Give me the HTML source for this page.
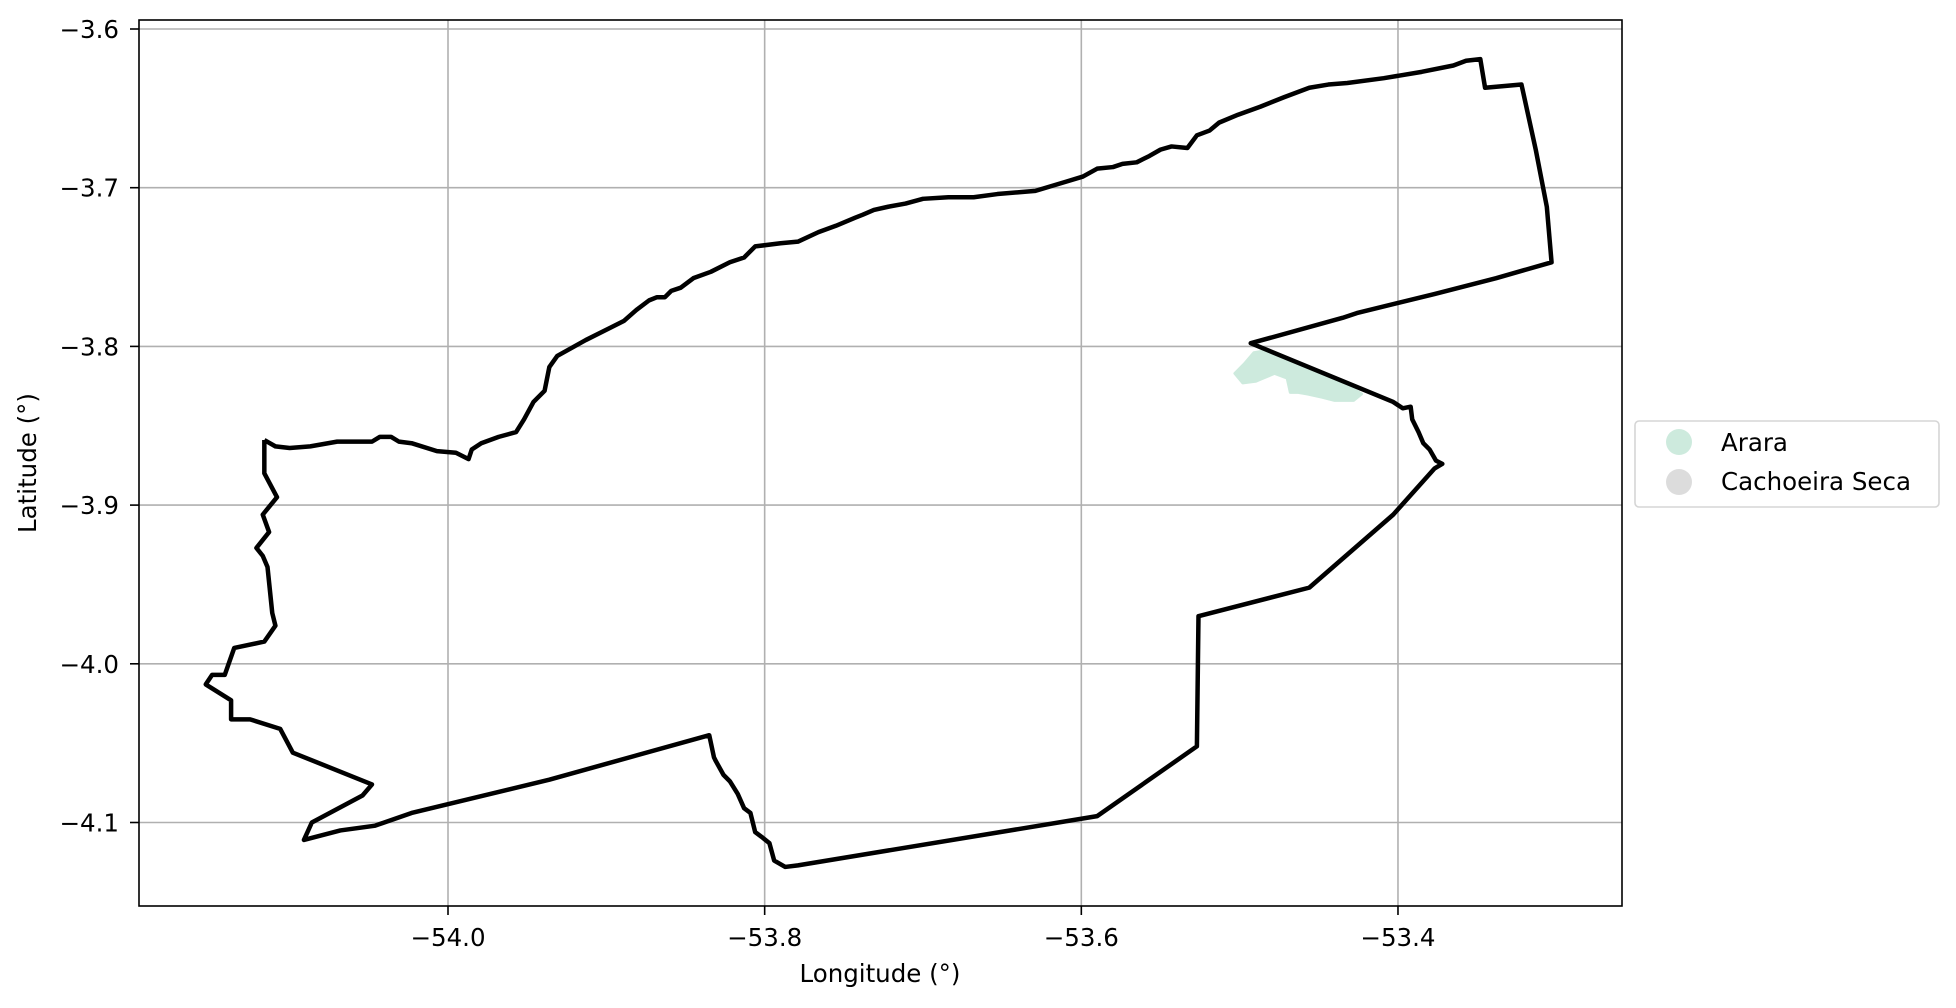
<!DOCTYPE html>
<html><head><meta charset="utf-8"><style>
body{margin:0;background:#fff}
svg{display:block;font-family:"DejaVu Sans","Liberation Sans",sans-serif}
</style></head><body>
<svg id="chart" width="1956" height="1008" viewBox="0 0 1956 1008" xmlns="http://www.w3.org/2000/svg">
<rect width="1956" height="1008" fill="#fff"/>
<g id="grid"></g>
<g id="patch"></g>
<g id="outline"></g>
<rect x="139" y="20" width="1483" height="886" fill="none" stroke="#000" stroke-width="1.6"/>
<g id="ticks"></g>
<text x="880" y="982" font-size="24.5" text-anchor="middle">Longitude (°)</text>
<text transform="translate(36,463) rotate(-90)" font-size="24.5" text-anchor="middle">Latitude (°)</text>
<g>
<rect x="1635" y="421" width="304" height="86" rx="4" fill="#fff" stroke="#d5d5d5" stroke-width="1.6"/>
<circle cx="1679" cy="442" r="13" fill="#cdeadd"/>
<text x="1721" y="451" font-size="24.5">Arara</text>
<circle cx="1679" cy="482" r="13" fill="#dcdcdc"/>
<text x="1721" y="490" font-size="24.5">Cachoeira Seca</text>
</g>
</svg>
<script>
const xTicks=[-54.0,-53.8,-53.6,-53.4];
const xTickLabels=["−54.0","−53.8","−53.6","−53.4"];
const yTicks=[-3.6,-3.7,-3.8,-3.9,-4.0,-4.1];
const yTickLabels=["−3.6","−3.7","−3.8","−3.9","−4.0","−4.1"];
const boundaryLon=[-54.116,-54.109,-54.100,-54.087,-54.070,-54.048,-54.043,-54.036,-54.031,-54.023,-54.007,-53.995,-53.987,-53.985,-53.979,-53.968,-53.957,-53.952,-53.946,-53.939,-53.936,-53.931,-53.913,-53.897,-53.889,-53.881,-53.873,-53.868,-53.863,-53.859,-53.853,-53.845,-53.834,-53.822,-53.813,-53.806,-53.790,-53.779,-53.766,-53.755,-53.743,-53.738,-53.731,-53.722,-53.711,-53.700,-53.684,-53.668,-53.653,-53.629,-53.619,-53.609,-53.599,-53.590,-53.580,-53.574,-53.565,-53.557,-53.550,-53.543,-53.533,-53.527,-53.519,-53.513,-53.501,-53.487,-53.472,-53.456,-53.444,-53.432,-53.409,-53.385,-53.365,-53.357,-53.348,-53.345,-53.322,-53.313,-53.306,-53.303,-53.338,-53.377,-53.426,-53.435,-53.493,-53.403,-53.397,-53.392,-53.391,-53.387,-53.384,-53.380,-53.376,-53.372,-53.377,-53.403,-53.456,-53.526,-53.527,-53.590,-53.779,-53.787,-53.794,-53.797,-53.802,-53.806,-53.809,-53.813,-53.817,-53.822,-53.826,-53.831,-53.832,-53.835,-53.936,-54.023,-54.046,-54.068,-54.091,-54.086,-54.054,-54.048,-54.098,-54.106,-54.125,-54.137,-54.137,-54.153,-54.149,-54.141,-54.135,-54.116,-54.109,-54.111,-54.114,-54.117,-54.121,-54.113,-54.117,-54.108,-54.116,-54.116];
const boundaryLat=[-3.859,-3.863,-3.864,-3.863,-3.860,-3.860,-3.857,-3.857,-3.860,-3.861,-3.866,-3.867,-3.871,-3.865,-3.861,-3.857,-3.854,-3.846,-3.835,-3.828,-3.813,-3.806,-3.796,-3.788,-3.784,-3.777,-3.771,-3.769,-3.769,-3.765,-3.763,-3.757,-3.753,-3.747,-3.744,-3.737,-3.735,-3.734,-3.728,-3.724,-3.719,-3.717,-3.714,-3.712,-3.710,-3.707,-3.706,-3.706,-3.704,-3.702,-3.699,-3.696,-3.693,-3.688,-3.687,-3.685,-3.684,-3.680,-3.676,-3.674,-3.675,-3.667,-3.664,-3.659,-3.654,-3.649,-3.643,-3.637,-3.635,-3.634,-3.631,-3.627,-3.623,-3.620,-3.619,-3.637,-3.635,-3.676,-3.712,-3.747,-3.757,-3.767,-3.779,-3.782,-3.798,-3.835,-3.839,-3.838,-3.846,-3.854,-3.861,-3.865,-3.872,-3.874,-3.877,-3.906,-3.952,-3.970,-4.052,-4.096,-4.127,-4.128,-4.124,-4.113,-4.109,-4.106,-4.094,-4.091,-4.082,-4.074,-4.070,-4.061,-4.059,-4.045,-4.073,-4.094,-4.102,-4.105,-4.111,-4.100,-4.083,-4.076,-4.056,-4.041,-4.035,-4.035,-4.023,-4.013,-4.007,-4.007,-3.990,-3.986,-3.976,-3.968,-3.939,-3.932,-3.927,-3.917,-3.906,-3.895,-3.880,-3.859];
const araraLon=[-53.503,-53.497,-53.491,-53.485,-53.472,-53.456,-53.436,-53.423,-53.428,-53.440,-53.448,-53.457,-53.463,-53.468,-53.470,-53.478,-53.490,-53.498];
const araraLat=[-3.817,-3.811,-3.804,-3.803,-3.808,-3.814,-3.822,-3.830,-3.834,-3.834,-3.832,-3.830,-3.829,-3.829,-3.820,-3.817,-3.822,-3.823];

const NS="http://www.w3.org/2000/svg";
const L=139,R=1622,T=20,B=906;
function sx(lon){return 448+(lon+54)*1583.3;}
function sy(lat){return 29+(-3.6-lat)*1587;}
function mk(tag,attrs,parent){const e=document.createElementNS(NS,tag);for(const k in attrs)e.setAttribute(k,attrs[k]);parent.appendChild(e);return e;}
const grid=document.getElementById('grid'),ticks=document.getElementById('ticks');
xTicks.forEach((v,i)=>{const x=sx(v);
 const g=mk('line',{x1:x,x2:x,y1:T,y2:B,stroke:'#b0b0b0','stroke-width':1.6},grid);
 
 
 const t=mk('line',{x1:x,x2:x,y1:B,y2:B+9,stroke:'#000','stroke-width':1.6},ticks);
 
 
 const tx=mk('text',{x:x,y:946,'font-size':24.5,'text-anchor':'middle'},ticks);tx.textContent=xTickLabels[i];
 
 
});
yTicks.forEach((v,i)=>{const y=sy(v);
 const g=mk('line',{x1:L,x2:R,y1:y,y2:y,stroke:'#b0b0b0','stroke-width':1.6},grid);
 
 
 const t=mk('line',{x1:L-9,x2:L,y1:y,y2:y,stroke:'#000','stroke-width':1.6},ticks);
 
 
 const tx=mk('text',{x:119,y:y+9,'font-size':24.5,'text-anchor':'end'},ticks);tx.textContent=yTickLabels[i];
 
 
});
const pa=mk('polygon',{points:araraLon.map((v,i)=>sx(v)+','+sy(araraLat[i])).join(' '),fill:'#cdeadd',stroke:'#cdeadd','stroke-width':3,'stroke-linejoin':'round'},document.getElementById('patch'));


const ol=mk('polyline',{points:boundaryLon.map((v,i)=>sx(v)+','+sy(boundaryLat[i])).join(' '),fill:'none',stroke:'#000','stroke-width':4.5,'stroke-linejoin':'round'},document.getElementById('outline'));


</script>
</body></html>
